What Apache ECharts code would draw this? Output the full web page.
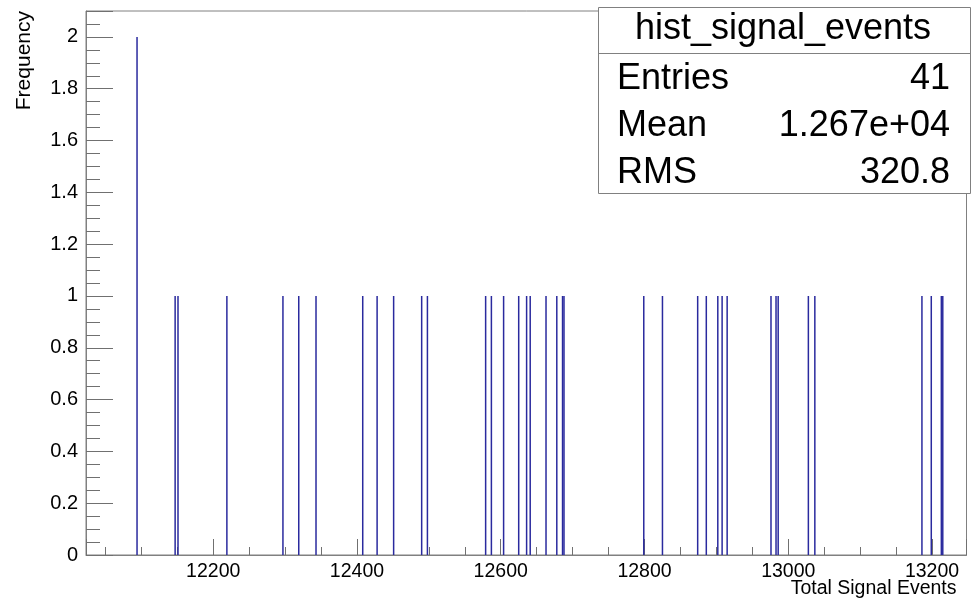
<!DOCTYPE html>
<html>
<head>
<meta charset="utf-8">
<script src="https://cdn.jsdelivr.net/npm/echarts@6/dist/echarts.min.js"></script>
<style>
html,body{margin:0;padding:0;background:#fff;}
#chart{width:972px;height:601px;}
</style>
</head>
<body>
<div id="chart"></div>
<script>
// Bin centres (Total Signal Events) and their frequencies
const binValues = [12094, 12147, 12151, 12219, 12297, 12319, 12343, 12408, 12428, 12451,
  12490, 12498, 12579, 12587, 12604, 12625, 12636, 12641, 12663, 12678,
  12686, 12688, 12799, 12825, 12874, 12886, 12902, 12908, 12915, 12976,
  12983, 12986, 13028, 13037, 13186, 13199, 13213, 13215];
const binCounts = [2, 1, 1, 1, 1, 1, 1, 1, 1, 1,
  1, 1, 1, 1, 1, 1, 1, 1, 1, 1,
  1, 1, 1, 1, 1, 1, 1, 1, 1, 1,
  1, 1, 1, 1, 1, 1, 1, 1];
const xRange = [12023, 13248];
const yRange = [0, 2.1];
const statsTitle = 'hist_signal_events';
const statsLabels = ['Entries', 'Mean', 'RMS'];
const statsValues = ['41', '1.267e+04', '320.8'];
const xTitle = 'Total Signal Events';
const yTitle = 'Frequency';

const FONT = '"Liberation Sans", Arial, Helvetica, sans-serif';
const FRAME = '#808080';

const chart = echarts.init(document.getElementById('chart'), null, {renderer: 'canvas'});

const data = binValues.map((v, i) => [v, binCounts[i]]);

const rows = statsLabels.map((lab, i) => {
  const cy = [79, 126, 173][i];
  return [
    {type: 'text', z: 101, style: {x: 617, y: cy, text: lab, fill: '#000', font: '36px ' + FONT, textAlign: 'left', textVerticalAlign: 'middle'}},
    {type: 'text', z: 101, style: {x: 950, y: cy, text: statsValues[i], fill: '#000', font: '36px ' + FONT, textAlign: 'right', textVerticalAlign: 'middle'}}
  ];
}).flat();

chart.setOption({
  animation: false,
  backgroundColor: '#fff',
  grid: {left: 86, right: 5.5, top: 11, bottom: 46, show: true, borderColor: FRAME, borderWidth: 1, backgroundColor: 'transparent'},
  xAxis: [
    {
      type: 'value', min: xRange[0], max: xRange[1], minInterval: 200, maxInterval: 200, splitNumber: 6,
      axisLine: {show: true, onZero: false, lineStyle: {color: FRAME}},
      axisTick: {show: true, inside: true, length: 16, lineStyle: {color: '#707070'}},
      axisLabel: {show: true, margin: 7, color: '#000', fontSize: 19.5, fontFamily: FONT,
        formatter: v => (Math.abs(v % 200) < 1e-6 ? String(v) : '')},
      splitLine: {show: false}
    },
    {
      type: 'value', min: xRange[0], max: xRange[1], minInterval: 50, maxInterval: 50, splitNumber: 24,
      position: 'bottom',
      axisLine: {show: false},
      axisTick: {show: true, inside: true, length: 8, lineStyle: {color: '#707070'}},
      axisLabel: {show: false},
      splitLine: {show: false}
    }
  ],
  yAxis: [
    {
      type: 'value', min: yRange[0], max: yRange[1], interval: 0.2,
      axisLine: {show: true, lineStyle: {color: FRAME}},
      axisTick: {show: true, inside: true, length: 27, lineStyle: {color: '#707070'}},
      axisLabel: {show: true, margin: 8, color: '#000', fontSize: 20, fontFamily: FONT,
        formatter: v => {
          const r = Math.round(v * 10) / 10;
          if (Math.abs((r * 10) % 2) > 1e-6 || r > 2.05) return '';
          return String(r);
        }},
      splitLine: {show: false}
    },
    {
      type: 'value', min: yRange[0], max: yRange[1], interval: 0.05, position: 'left',
      axisLine: {show: false},
      axisTick: {show: true, inside: true, length: 14, lineStyle: {color: '#707070'}},
      axisLabel: {show: false},
      splitLine: {show: false}
    }
  ],
  series: [{
    type: 'bar',
    xAxisIndex: 0, yAxisIndex: 0,
    data: data,
    barWidth: 1.5,
    itemStyle: {color: '#2a2a9e'},
    z: 3
  }],
  graphic: [
    {type: 'text', style: {x: 956.5, y: 589, text: xTitle, fill: '#000', font: '19.5px ' + FONT, textAlign: 'right', textVerticalAlign: 'middle'}},
    {type: 'text', x: 24, y: 11, rotation: Math.PI / 2,
      style: {x: 0, y: 0, text: yTitle, fill: '#000', font: '21px ' + FONT, textAlign: 'right', textVerticalAlign: 'middle'}},
    {type: 'rect', z: 100, shape: {x: 598.5, y: 7.5, width: 372, height: 186}, style: {fill: '#fff', stroke: FRAME, lineWidth: 1}},
    {type: 'line', z: 101, shape: {x1: 598.5, y1: 53.5, x2: 970.5, y2: 53.5}, style: {stroke: FRAME, lineWidth: 1}},
    {type: 'text', z: 101, style: {x: 783, y: 29, text: statsTitle, fill: '#000', font: '36px ' + FONT, textAlign: 'center', textVerticalAlign: 'middle'}}
  ].concat(rows)
});
</script>
</body>
</html>
